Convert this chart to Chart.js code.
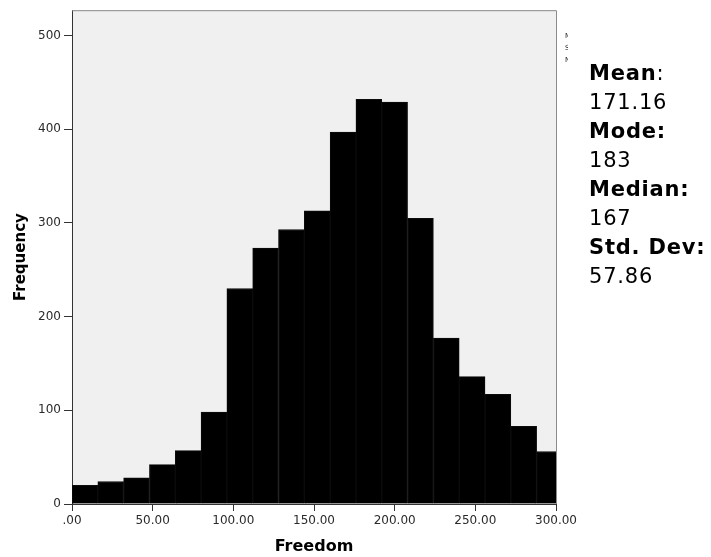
<!DOCTYPE html>
<html><head><meta charset="utf-8">
<script src="https://cdn.jsdelivr.net/npm/chart.js@4.4.1/dist/chart.umd.min.js"></script>
<style>
html,body{margin:0;padding:0;background:#fff;}
#wrap{position:relative;width:711px;height:557px;overflow:hidden;}
#stats{position:absolute;left:589px;top:59px;font-family:"DejaVu Sans",Verdana,sans-serif;font-size:21px;line-height:29px;color:#000;letter-spacing:0.8px;white-space:nowrap;}
#stats b{font-weight:bold;}
</style></head><body>
<div id="wrap"><canvas id="c" width="711" height="557"></canvas>
<div id="stats"></div></div>
<script>
// ---- data ----
const binStarts   = [0,16,32,48,64,80,96,112,128,144,160,176,192,208,224,240,256,272,288];
const frequencies = [20,24,28,42,57,98,230,273,293,313,397,432,429,305,177,136,117,83,56];
const binWidth = 16;
const xTickValues = [0,50,100,150,200,250,300];
const xTickLabels = ['.00','50.00','100.00','150.00','200.00','250.00','300.00'];
const yTickValues = [0,100,200,300,400,500];
const statLabels = ['Mean','Mode:','Median:','Std. Dev:'];
const statValues = ['171.16','183','167','57.86'];
const xTitle = 'Freedom';
const yTitle = 'Frequency';

// stats panel (real text)
const st = document.getElementById('stats');
st.innerHTML = statLabels.map((l,i)=> (i===0 ? '<b>'+l+'</b>:' : '<b>'+l+'</b>') + '<br>' + statValues[i]).join('<br>');

const bgPlugin = {
  id:'bg',
  beforeDraw(chart){
    const {ctx, chartArea:a} = chart;
    ctx.save();
    ctx.fillStyle = '#f0f0f0';
    ctx.fillRect(a.left, a.top, a.right-a.left, a.bottom-a.top);
    ctx.restore();
  },
  afterDraw(chart){
    const {ctx, chartArea:a} = chart;
    ctx.save();
    ctx.strokeStyle = '#8a8a8a';
    ctx.lineWidth = 1;
    ctx.beginPath();
    ctx.moveTo(a.left, a.top+0.5); ctx.lineTo(a.right+0.5, a.top+0.5);
    ctx.lineTo(a.right+0.5, a.bottom);
    ctx.stroke();
    // clipped legend remnants to the right of the plot
    ctx.beginPath();
    ctx.rect(564, 28, 4, 40);
    ctx.clip();
    ctx.fillStyle = '#222';
    ctx.font = '7px "DejaVu Sans"';
    ['Mean =','Std. Dev. =','N ='].forEach((t,i)=>ctx.fillText(t, 565, 38+i*12));
    ctx.restore();
  }
};

new Chart(document.getElementById('c'), {
  type:'bar',
  data:{
    datasets:[{
      data: binStarts.map((s,i)=>({x:s+binWidth/2, y:frequencies[i]})),
      backgroundColor:'#000',
      borderColor:'#0c0c0c',
      borderWidth:1,
      barPercentage:1,
      categoryPercentage:1,
      grouped:false
    }]
  },
  options:{
    responsive:false,
    animation:false,
    devicePixelRatio:1,
    layout:{padding:{left:0,top:7,right:155,bottom:0}},
    plugins:{legend:{display:false},tooltip:{enabled:false}},
    scales:{
      x:{
        type:'linear', min:0, max:300, offset:false,
        afterFit(s){ s.height = 53; },
        afterBuildTicks(s){ s.ticks = xTickValues.map(v=>({value:v})); },
        ticks:{
          autoSkip:false, maxRotation:0, padding:3, color:'#2a2a2a',
          font:{family:'DejaVu Sans', size:12},
          callback(v){ const i = xTickValues.indexOf(v); return i>=0 ? xTickLabels[i] : ''; }
        },
        grid:{offset:false, drawOnChartArea:false, drawTicks:true, tickLength:7, color:'#333'},
        border:{display:true, color:'#333', width:1},
        title:{display:true, text:xTitle, color:'#000', font:{family:'DejaVu Sans', size:16, weight:'bold'}, padding:{top:0,bottom:1}}
      },
      y:{
        type:'linear', min:0, max:527,
        afterFit(s){ s.width = 72; },
        afterBuildTicks(s){ s.ticks = yTickValues.map(v=>({value:v})); },
        ticks:{ padding:3, color:'#2a2a2a', font:{family:'DejaVu Sans', size:12} },
        grid:{drawOnChartArea:false, drawTicks:true, tickLength:8, color:'#333'},
        border:{display:true, color:'#333', width:1},
        title:{display:true, text:yTitle, color:'#000', font:{family:'DejaVu Sans', size:15, weight:'bold'}, padding:{top:12,bottom:0}}
      }
    }
  },
  plugins:[bgPlugin]
});
</script>
</body></html>
